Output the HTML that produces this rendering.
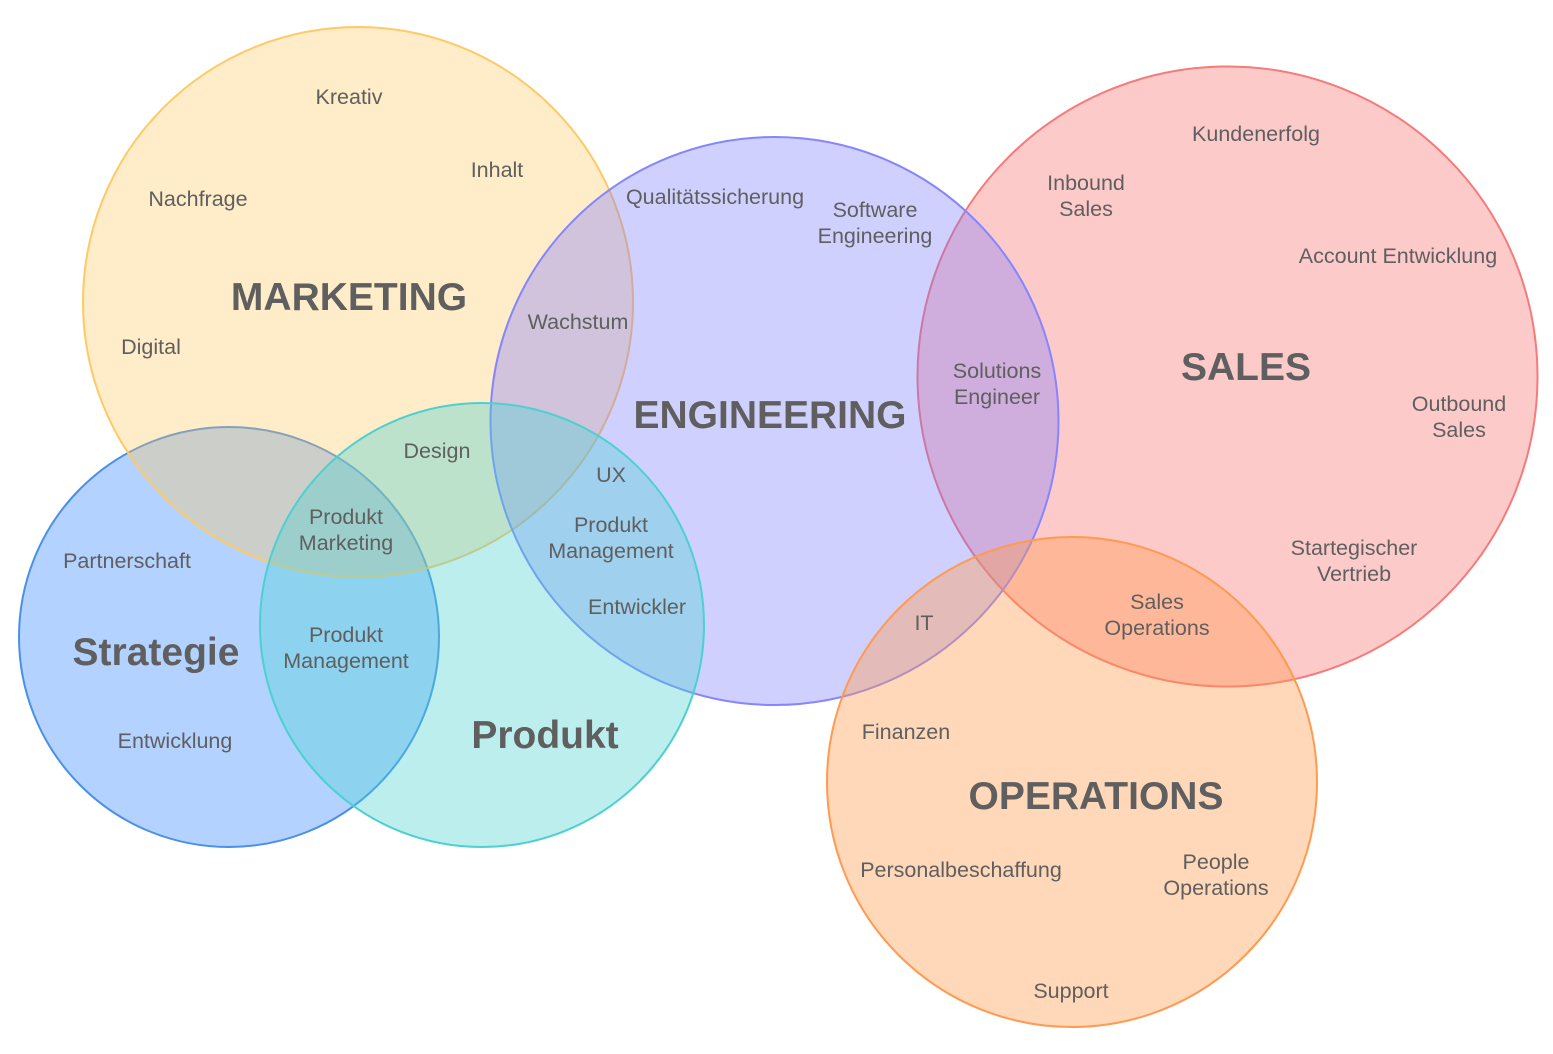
<!DOCTYPE html>
<html><head><meta charset="utf-8"><style>
html,body{margin:0;padding:0;background:#fff;}
svg{display:block;}
text{font-family:"Liberation Sans",Arial,sans-serif;fill:#5f5f5f;text-anchor:middle;}
.s{font-size:21.5px;}
.b{font-size:39px;font-weight:bold;}
</style></head><body>
<svg width="1553" height="1054" viewBox="0 0 1553 1054" xmlns="http://www.w3.org/2000/svg">
<circle cx="1227.5" cy="376.5" r="310" fill="#f96565" fill-opacity="0.34" stroke="#f77a7a" stroke-width="2"/>
<circle cx="229" cy="637" r="210" fill="#4b94ff" fill-opacity="0.42" stroke="#4a90e8" stroke-width="2"/>
<circle cx="358" cy="302" r="275" fill="#ffc45c" fill-opacity="0.33" stroke="#ffc966" stroke-width="2"/>
<circle cx="774.5" cy="421" r="284" fill="#7474ff" fill-opacity="0.34" stroke="#8585ff" stroke-width="2"/>
<circle cx="482" cy="625" r="222" fill="#4fd3d3" fill-opacity="0.38" stroke="#4cd0d0" stroke-width="2"/>
<circle cx="1072" cy="782" r="245" fill="#ff9a50" fill-opacity="0.4" stroke="#ff9a50" stroke-width="2"/>

<text class="b" x="349" y="310">MARKETING</text>
<text class="b" x="770" y="428">ENGINEERING</text>
<text class="b" x="1246" y="380">SALES</text>
<text class="b" x="1096" y="809">OPERATIONS</text>
<text class="b" x="156" y="665">Strategie</text>
<text class="b" x="545" y="748">Produkt</text>

<text class="s" x="349" y="104">Kreativ</text>
<text class="s" x="497" y="177">Inhalt</text>
<text class="s" x="198" y="206">Nachfrage</text>
<text class="s" x="151" y="354">Digital</text>
<text class="s" x="578" y="329">Wachstum</text>
<text class="s" x="715" y="204">Qualitätssicherung</text>
<text class="s" x="875" y="217">Software</text>
<text class="s" x="875" y="243">Engineering</text>
<text class="s" x="1256" y="141">Kundenerfolg</text>
<text class="s" x="1086" y="190">Inbound</text>
<text class="s" x="1086" y="216">Sales</text>
<text class="s" x="1398" y="263">Account Entwicklung</text>
<text class="s" x="997" y="378">Solutions</text>
<text class="s" x="997" y="404">Engineer</text>
<text class="s" x="1459" y="411">Outbound</text>
<text class="s" x="1459" y="437">Sales</text>
<text class="s" x="1354" y="555">Startegischer</text>
<text class="s" x="1354" y="581">Vertrieb</text>
<text class="s" x="1157" y="609">Sales</text>
<text class="s" x="1157" y="635">Operations</text>
<text class="s" x="924" y="630">IT</text>
<text class="s" x="906" y="739">Finanzen</text>
<text class="s" x="961" y="877">Personalbeschaffung</text>
<text class="s" x="1216" y="869">People</text>
<text class="s" x="1216" y="895">Operations</text>
<text class="s" x="1071" y="998">Support</text>
<text class="s" x="437" y="458">Design</text>
<text class="s" x="611" y="482">UX</text>
<text class="s" x="611" y="532">Produkt</text>
<text class="s" x="611" y="558">Management</text>
<text class="s" x="637" y="614">Entwickler</text>
<text class="s" x="346" y="524">Produkt</text>
<text class="s" x="346" y="550">Marketing</text>
<text class="s" x="127" y="568">Partnerschaft</text>
<text class="s" x="346" y="642">Produkt</text>
<text class="s" x="346" y="668">Management</text>
<text class="s" x="175" y="748">Entwicklung</text>
</svg>
</body></html>
